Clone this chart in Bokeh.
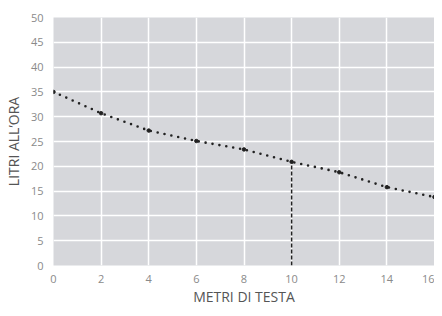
from bokeh.plotting import figure
from bokeh.models import Range1d, FixedTicker
from bokeh.embed import file_html
from bokeh.resources import INLINE

# Data
metri = [0, 2, 4, 6, 8, 10, 12, 14, 16]
litri = [35, 30.7, 27.2, 25.1, 23.4, 20.9, 18.8, 15.8, 13.8]
x_ticks = [0, 2, 4, 6, 8, 10, 12, 14, 16]
y_ticks = [0, 5, 10, 15, 20, 25, 30, 35, 40, 45, 50]
marker_x = [10, 10]
marker_y = [0, 20.9]

FONT = "Open Sans"

p = figure(width=434, height=308,
           x_range=Range1d(0, 16), y_range=Range1d(0, 50),
           output_backend="svg", toolbar_location=None,
           min_border_left=51, min_border_right=0, min_border_top=17,
           min_border_bottom=30)
p.outline_line_color = None
p.background_fill_color = "#d6d7db"
p.border_fill_color = "white"

p.xgrid.grid_line_color = "white"
p.ygrid.grid_line_color = "white"
p.xgrid.grid_line_width = 1.5
p.ygrid.grid_line_width = 1.5
p.xaxis.ticker = FixedTicker(ticks=x_ticks)
p.yaxis.ticker = FixedTicker(ticks=y_ticks)

for ax in (p.xaxis, p.yaxis):
    ax.axis_line_color = None
    ax.major_tick_line_color = None
    ax.minor_tick_line_color = None
    ax.major_label_text_font = FONT
    ax.major_label_text_font_size = "11px"
    ax.major_label_text_color = "#8a8a8a"
    ax.axis_label_text_font = FONT
    ax.axis_label_text_font_size = "14px"
    ax.axis_label_text_color = "#555555"
    ax.axis_label_text_font_style = "normal"

p.xaxis.axis_label = "METRI DI TESTA"
p.yaxis.axis_label = "LITRI ALL\u2019ORA"
p.xaxis.major_label_standoff = 3
p.yaxis.major_label_standoff = 4
p.xaxis.axis_label_standoff = 1
p.yaxis.axis_label_standoff = 5

p.line(marker_x, marker_y, line_color="#222222", line_width=1.5, line_dash="4 2")
p.line(metri, litri, line_color="#222222", line_width=2.6, line_dash="0 7",
       line_cap="round")
p.scatter(metri, litri, size=3.5, color="#222222")

open("out.html", "w").write(file_html(p, INLINE))
